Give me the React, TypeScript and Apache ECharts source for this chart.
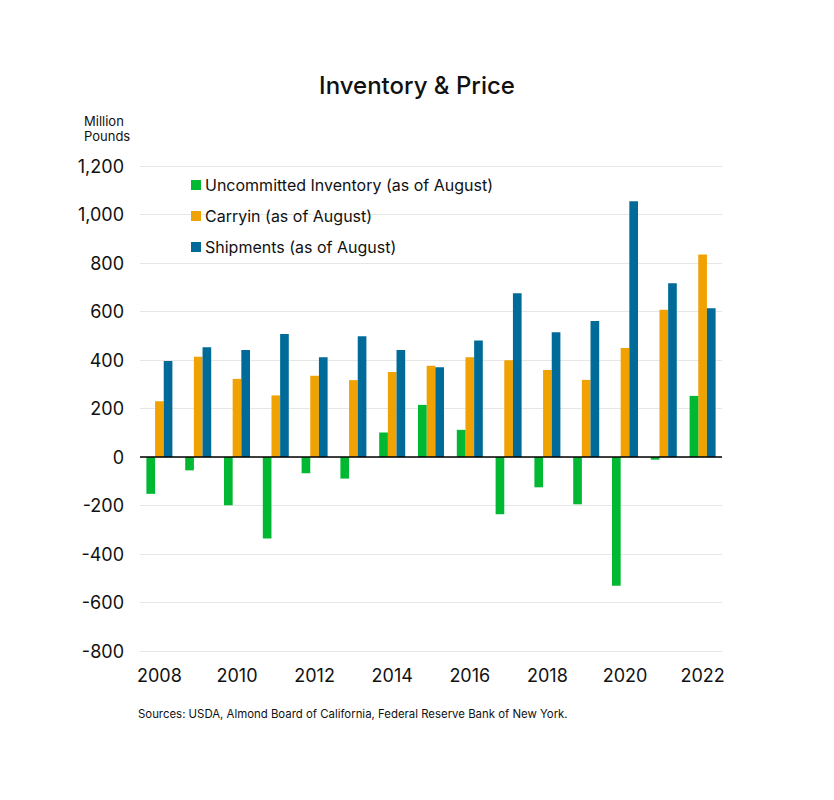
import { useEffect, useRef } from "react";
import * as echarts from "echarts";

const years = ["2008", "2009", "2010", "2011", "2012", "2013", "2014", "2015", "2016", "2017", "2018", "2019", "2020", "2021", "2022"];
const uncommitted = [-152, -55, -199, -336, -67, -89, 101, 215, 112, -236, -125, -195, -531, -11, 252];
const carryin = [230, 413, 322, 254, 335, 317, 351, 376, 411, 399, 359, 318, 450, 607, 835];
const shipments = [396, 453, 441, 507, 411, 498, 441, 370, 480, 675, 514, 561, 1055, 716, 613];

const FONT = "Inter, 'Noto Sans', sans-serif";

export default function App() {
  const ref = useRef<HTMLDivElement>(null);

  useEffect(() => {
    document.body.style.margin = "0";
    if (!ref.current) return;
    const chart = echarts.init(ref.current, null, { renderer: "svg" });

    chart.setOption({
      animation: false,
      backgroundColor: "#fff",
      textStyle: { fontFamily: FONT },
      title: {
        text: "Inventory & Price",
        left: "center",
        top: 68,
        textStyle: { fontSize: 24, fontWeight: 500, color: "#111", fontFamily: FONT },
      },
      graphic: [
        {
          type: "text",
          left: 84,
          top: 113,
          style: {
            text: "Million\nPounds",
            align: "center",
            fontSize: 13,
            lineHeight: 15,
            fill: "#111",
            fontFamily: FONT,
          },
        },
        {
          type: "text",
          left: 138,
          top: 708,
          style: {
            text: "Sources: USDA, Almond Board of California, Federal Reserve Bank of New York.",
            fontSize: 11.4,
            fill: "#111",
            fontFamily: FONT,
          },
        },
      ],
      legend: {
        orient: "vertical",
        left: 186,
        top: 172,
        itemWidth: 10,
        itemHeight: 10,
        itemGap: 15,
        icon: "rect",
        textStyle: { fontSize: 16, color: "#111", fontFamily: FONT, padding: [0, 0, 0, -1] },
        data: ["Uncommitted Inventory (as of August)", "Carryin (as of August)", "Shipments (as of August)"],
      },
      grid: { left: 140, right: 112, top: 166, bottom: 149 },
      xAxis: {
        type: "category",
        data: years,
        axisLine: { show: false },
        axisTick: { show: false },
        axisLabel: { interval: 1, fontSize: 18, color: "#111", margin: 15, fontFamily: FONT },
        splitLine: { show: false },
      },
      yAxis: {
        type: "value",
        min: -800,
        max: 1200,
        interval: 200,
        axisLine: { show: false },
        axisTick: { show: false },
        axisLabel: {
          fontSize: 18,
          color: "#111",
          margin: 16,
          fontFamily: FONT,
          formatter: (v: number) => v.toLocaleString("en-US"),
        },
        splitLine: { lineStyle: { color: "#e6e6e6", width: 1 } },
      },
      series: [
        {
          name: "Uncommitted Inventory (as of August)",
          type: "bar",
          data: uncommitted,
          barGap: "0%",
          barCategoryGap: "33%",
          itemStyle: { color: "#00b832" },
          markLine: {
            silent: true,
            symbol: "none",
            label: { show: false },
            lineStyle: { color: "#000", width: 1.5, type: "solid" },
            data: [{ yAxis: 0 }],
          },
          z: 3,
        },
        {
          name: "Carryin (as of August)",
          type: "bar",
          data: carryin,
          barGap: "0%",
          barCategoryGap: "33%",
          itemStyle: { color: "#f0a202" },
        },
        {
          name: "Shipments (as of August)",
          type: "bar",
          data: shipments,
          barGap: "0%",
          barCategoryGap: "33%",
          itemStyle: { color: "#006b99" },
        },
      ],
    });

    return () => chart.dispose();
  }, []);

  return <div ref={ref} style={{ width: 834, height: 800 }} />;
}
